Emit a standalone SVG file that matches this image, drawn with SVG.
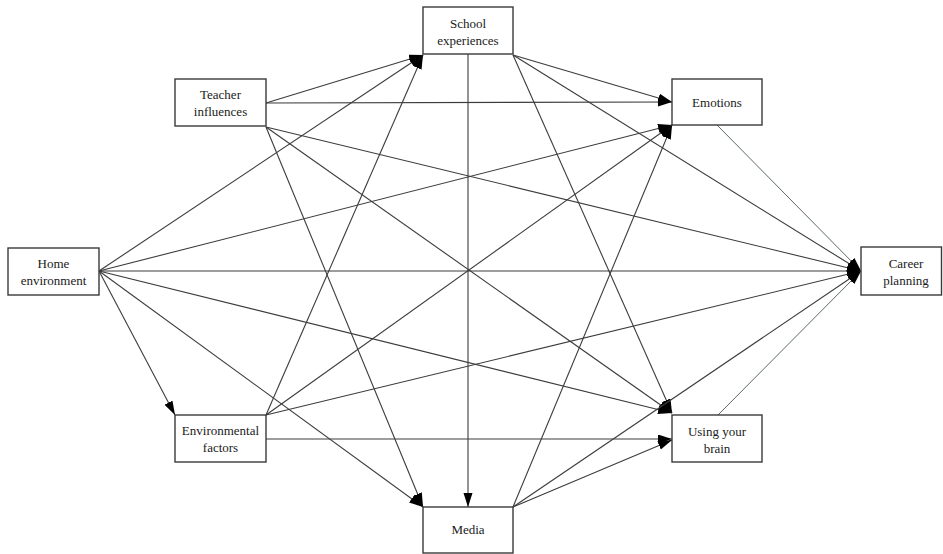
<svg xmlns="http://www.w3.org/2000/svg" width="943" height="554" viewBox="0 0 943 554">
  <style>
    .box { fill: #ffffff; stroke: #3a3a3a; stroke-width: 1.4; }
    .lbl { font-family: "Liberation Serif", "Times New Roman", serif; font-size: 13px; fill: #1a1a1a; text-anchor: middle; }
    .edge { fill: none; stroke: #3c3c3c; stroke-width: 1.1; marker-end: url(#arrow); }
    .thin { stroke: #4a5a4a; stroke-width: 0.9; }
  </style>
  <defs>
    <marker id="arrow" markerUnits="userSpaceOnUse" markerWidth="15" markerHeight="10" refX="14" refY="4.5" orient="auto">
      <path d="M0,0 L14,4.5 L0,9 Z" fill="#000000"/>
    </marker>
  </defs>
  <rect width="943" height="554" fill="#ffffff"/>

  <g id="connectors">
    <!-- School experiences -->
    <line class="edge" x1="468" y1="54" x2="468" y2="507"/>
    <line class="edge" x1="513" y1="55" x2="672" y2="102"/>
    <line class="edge" x1="513" y1="55" x2="861" y2="271"/>
    <line class="edge" x1="513" y1="55" x2="672" y2="413"/>
    <!-- Teacher influences -->
    <line class="edge" x1="266" y1="103" x2="423" y2="55"/>
    <line class="edge" x1="266" y1="103" x2="672" y2="102"/>
    <line class="edge" x1="266" y1="127" x2="861" y2="271"/>
    <line class="edge" x1="266" y1="127" x2="672" y2="413"/>
    <line class="edge" x1="266" y1="127" x2="423" y2="507"/>
    <!-- Home environment -->
    <line class="edge" x1="99" y1="271" x2="423" y2="55"/>
    <line class="edge" x1="99" y1="271" x2="672" y2="125"/>
    <line class="edge" x1="99" y1="271" x2="861" y2="271"/>
    <line class="edge" x1="99" y1="271" x2="672" y2="413"/>
    <line class="edge" x1="99" y1="271" x2="423" y2="507"/>
    <line class="edge" x1="99" y1="271" x2="175" y2="415"/>
    <!-- Environmental factors -->
    <line class="edge" x1="266" y1="415" x2="423" y2="55"/>
    <line class="edge" x1="266" y1="415" x2="672" y2="125"/>
    <line class="edge" x1="266" y1="415" x2="861" y2="271"/>
    <line class="edge" x1="266" y1="439" x2="672" y2="439"/>
    <!-- Media -->
    <line class="edge" x1="513" y1="507" x2="672" y2="125"/>
    <line class="edge" x1="513" y1="507" x2="861" y2="271"/>
    <line class="edge" x1="513" y1="507" x2="672" y2="440"/>
    <!-- Emotions and Using your brain -->
    <line class="edge thin" x1="717" y1="125" x2="861" y2="271"/>
    <line class="edge thin" x1="718" y1="415" x2="861" y2="271"/>
  </g>

  <g id="school-experiences">
    <rect class="box" x="423" y="7" width="90" height="47"/>
    <text class="lbl" x="468" y="28">School</text>
    <text class="lbl" x="468" y="45">experiences</text>
  </g>
  <g id="teacher-influences">
    <rect class="box" x="175" y="79" width="91" height="47"/>
    <text class="lbl" x="220.5" y="99">Teacher</text>
    <text class="lbl" x="220.5" y="116">influences</text>
  </g>
  <g id="home-environment">
    <rect class="box" x="8" y="248" width="91" height="47"/>
    <text class="lbl" x="53.5" y="268">Home</text>
    <text class="lbl" x="53.5" y="285">environment</text>
  </g>
  <g id="emotions">
    <rect class="box" x="672" y="79" width="90" height="46"/>
    <text class="lbl" x="717" y="107">Emotions</text>
  </g>
  <g id="career-planning">
    <rect class="box" x="861" y="247" width="80.5" height="48"/>
    <text class="lbl" x="906" y="268">Career</text>
    <text class="lbl" x="906" y="285">planning</text>
  </g>
  <g id="environmental-factors">
    <rect class="box" x="175" y="415" width="91" height="47"/>
    <text class="lbl" x="220.5" y="435">Environmental</text>
    <text class="lbl" x="220.5" y="452">factors</text>
  </g>
  <g id="using-your-brain">
    <rect class="box" x="672" y="415" width="90" height="47"/>
    <text class="lbl" x="717" y="436">Using your</text>
    <text class="lbl" x="717" y="453">brain</text>
  </g>
  <g id="media">
    <rect class="box" x="423" y="507" width="90" height="46"/>
    <text class="lbl" x="468" y="534">Media</text>
  </g>
</svg>
